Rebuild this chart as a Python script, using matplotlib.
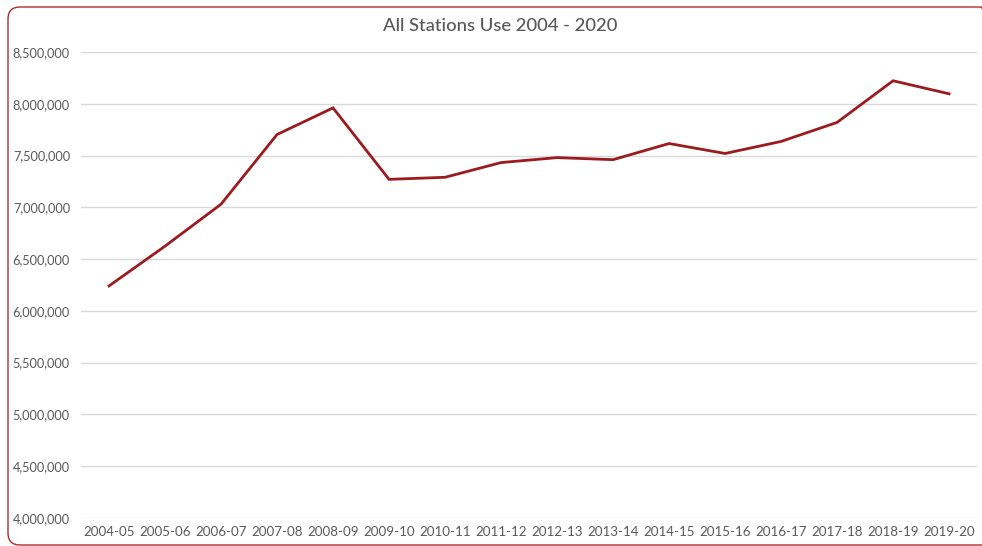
import matplotlib.pyplot as plt
from matplotlib.patches import FancyBboxPatch
from matplotlib.transforms import IdentityTransform
from matplotlib.ticker import FuncFormatter

years = ['2004-05', '2005-06', '2006-07', '2007-08', '2008-09', '2009-10',
         '2010-11', '2011-12', '2012-13', '2013-14', '2014-15', '2015-16',
         '2016-17', '2017-18', '2018-19', '2019-20']
usage = [6241000, 6625000, 7030000, 7703000, 7960000, 7270000,
         7290000, 7432000, 7480000, 7460000, 7616000, 7520000,
         7636000, 7820000, 8222000, 8096000]
yticks = list(range(4000000, 8500001, 500000))

plt.rcParams['font.family'] = ['Lato', 'DejaVu Sans']
grey = '#595959'
red = '#9b1b1f'

fig = plt.figure(figsize=(9.82, 5.46), dpi=100)
ax = fig.add_axes([0.0825, 0.0513, 0.9125, 0.8535])

x = list(range(len(years)))
ax.plot(x, usage, color=red, linewidth=2.0, solid_joinstyle='miter', zorder=3)

ax.set_xlim(-0.5, len(years) - 0.5)
ax.set_ylim(4000000, 8500000)
ax.set_yticks(yticks)
ax.yaxis.set_major_formatter(FuncFormatter(lambda v, p: f'{int(v):,}'))
ax.set_xticks(x)
ax.set_xticklabels(years)
ax.grid(axis='y', color='#d9d9d9', linewidth=1)
ax.set_axisbelow(True)
for s in ax.spines.values():
    s.set_visible(False)
ax.tick_params(axis='both', length=0, colors=grey)
ax.tick_params(axis='y', pad=8, labelsize=9.2)
ax.tick_params(axis='x', pad=6, labelsize=9.6)

fig.text(0.509, 0.952, 'All Stations Use 2004 - 2020', ha='center', va='center',
         fontsize=13.3, color=grey, fontweight='medium')

# rounded outer border of the chart area
border = FancyBboxPatch((8, 1), 985, 538, boxstyle='round,pad=0,rounding_size=12',
                        transform=IdentityTransform(), facecolor='none',
                        edgecolor='#b22a2e', linewidth=1.0, clip_on=False)
fig.patches.append(border)

fig.savefig('out.png', dpi=100)
